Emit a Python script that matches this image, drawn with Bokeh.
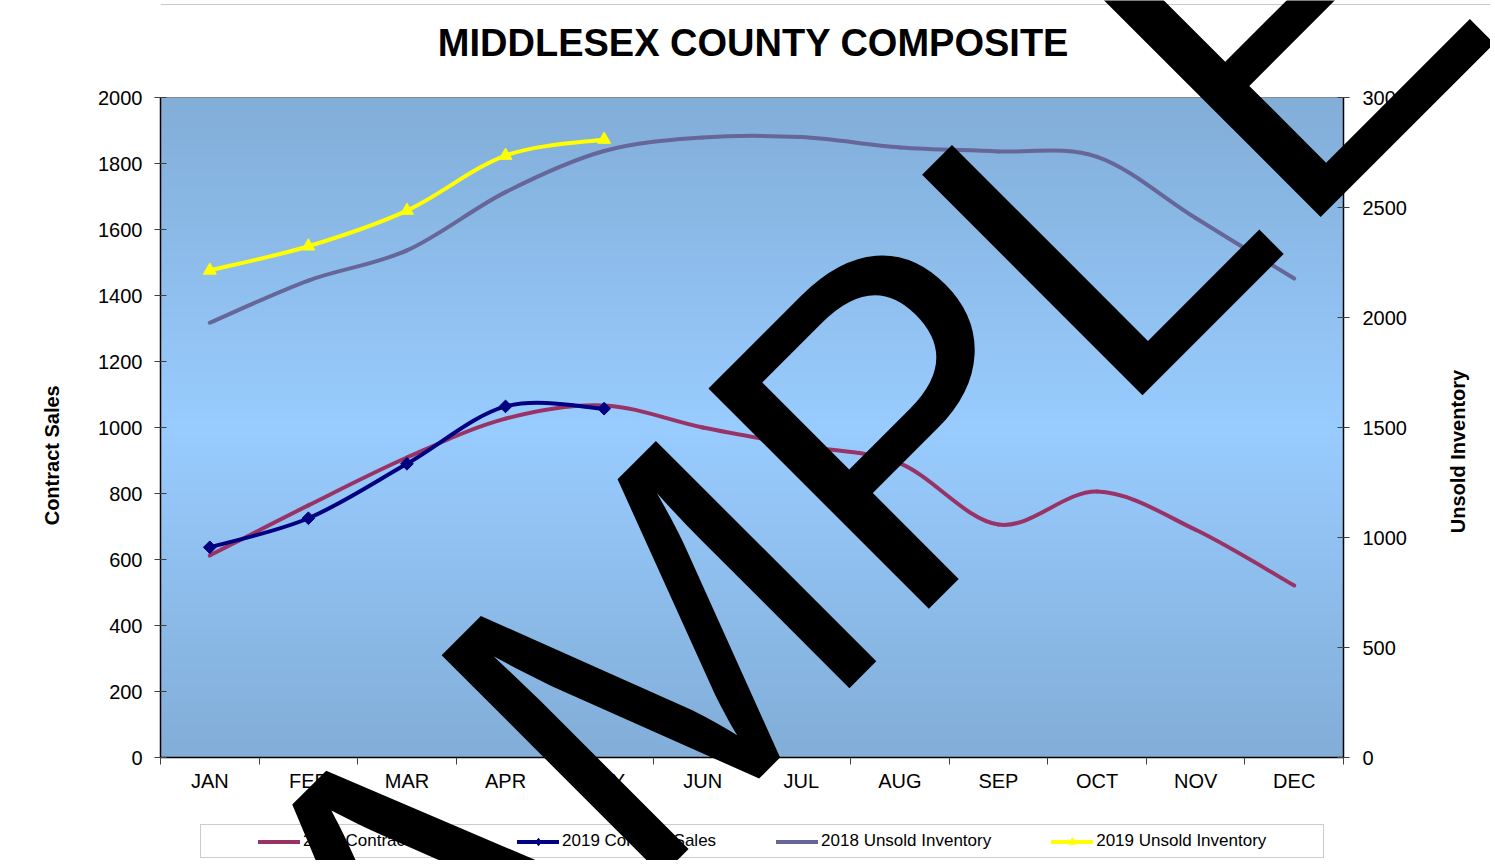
import math
import numpy as np
from bokeh.plotting import figure
from bokeh.layouts import column
from bokeh.models import Range1d, LinearAxis, FixedTicker, Legend, LegendItem, ColumnDataSource
from bokeh.core.properties import value
from bokeh.embed import file_html
from bokeh.resources import INLINE

# ---------------- data ----------------
months = ["JAN", "FEB", "MAR", "APR", "MAY", "JUN", "JUL", "AUG", "SEP", "OCT", "NOV", "DEC"]
sales_2018 = [612, 764, 909, 1027, 1067, 1000, 945, 891, 706, 806, 690, 521]
sales_2019 = [637, 725, 890, 1064, 1057]
inv_2018 = [1976, 2168, 2305, 2570, 2757, 2818, 2820, 2773, 2755, 2730, 2452, 2177]
inv_2019 = [2214, 2324, 2486, 2736, 2809]
sales_ticks = list(range(0, 2001, 200))
inv_ticks = list(range(0, 3001, 500))
series_names = ["2018 Contract Sales", "2019 Contract Sales",
                "2018 Unsold Inventory", "2019 Unsold Inventory"]
title_text = "MIDDLESEX COUNTY COMPOSITE"
left_label = "Contract Sales"
right_label = "Unsold Inventory"
watermark = "SAMPLE"

FONT = "Liberation Sans"
W, H = 1490, 860
LEFT = 160
NBSP = "\u00a0"


def smooth_segments(ys):
    """Cubic Bezier control points (Excel-like smoothing) for a series."""
    xs = [i + 1 for i in range(len(ys))]
    n = len(xs)
    d = dict(x0=[], y0=[], x1=[], y1=[], cx0=[], cy0=[], cx1=[], cy1=[])
    for i in range(n - 1):
        a = max(i - 1, 0)
        b = min(i + 2, n - 1)
        d["x0"].append(xs[i]); d["y0"].append(ys[i])
        d["x1"].append(xs[i + 1]); d["y1"].append(ys[i + 1])
        d["cx0"].append(xs[i] + (xs[i + 1] - xs[a]) / 6.0)
        d["cy0"].append(ys[i] + (ys[i + 1] - ys[a]) / 6.0)
        d["cx1"].append(xs[i + 1] - (xs[b] - xs[i]) / 6.0)
        d["cy1"].append(ys[i + 1] - (ys[b] - ys[i]) / 6.0)
    return ColumnDataSource(d)


p = figure(
    width=W, height=H,
    frame_width=1183, frame_height=660,
    min_border_left=LEFT, min_border_right=147, min_border_top=97, min_border_bottom=103,
    x_range=Range1d(0.5, 12.5), y_range=Range1d(0, 2000),
    output_backend="svg", toolbar_location=None,
)
p.extra_y_ranges = {"inv": Range1d(0, 3000)}
p.background_fill_color = "#99CCFF"
p.border_fill_color = "white"
p.outline_line_color = "#808080"
p.outline_line_width = 1
p.xgrid.visible = False
p.ygrid.visible = False
p.title.text = ""

# gradient plot-area fill
N = 256
t = np.abs(np.linspace(-1.0, 1.0, N))
edge = np.array([130, 174, 216], dtype=float)
center = np.array([153, 204, 255], dtype=float)
cols = center + (edge - center) * t[:, None]
img = np.zeros((N, 1), dtype=np.uint32)
view = img.view(dtype=np.uint8).reshape((N, 1, 4))
view[:, 0, 0] = cols[:, 0]
view[:, 0, 1] = cols[:, 1]
view[:, 0, 2] = cols[:, 2]
view[:, 0, 3] = 255
p.image_rgba(image=[img], x=0.5, y=0, dw=12, dh=2000)

# x axis: month labels at centres, tick marks at boundaries
xa = p.xaxis[0]
xa.ticker = FixedTicker(ticks=[i + 1 for i in range(len(months))],
                        minor_ticks=[i + 0.5 for i in range(len(months) + 1)])
xa.major_label_overrides = {i + 1: m for i, m in enumerate(months)}
xa.major_tick_line_color = None
xa.major_tick_in = 0
xa.major_tick_out = 7
xa.minor_tick_line_color = "#404040"
xa.minor_tick_in = 0
xa.minor_tick_out = 7
xa.major_label_standoff = 5
xa.axis_line_color = "black"
xa.axis_line_width = 1.5
xa.major_label_text_font = FONT
xa.major_label_text_font_size = "20px"
xa.major_label_text_color = "black"

# left axis
ya = p.yaxis[0]
ya.ticker = FixedTicker(ticks=sales_ticks)
ya.axis_label = left_label + NBSP * 10
ya.axis_label_text_font = FONT
ya.axis_label_text_font_size = "20px"
ya.axis_label_text_font_style = "bold"
ya.axis_label_text_color = "black"
ya.axis_label_standoff = 32
ya.major_label_text_font = FONT
ya.major_label_text_font_size = "20px"
ya.major_label_text_color = "black"
ya.major_label_standoff = 12
ya.major_tick_in = 6
ya.major_tick_out = 6
ya.major_tick_line_color = "#404040"
ya.minor_tick_line_color = None
ya.axis_line_color = "black"
ya.axis_line_width = 1.5

# right axis (its title is drawn in the overlay so it can read bottom-to-top)
ra = LinearAxis(y_range_name="inv", ticker=FixedTicker(ticks=inv_ticks))
ra.major_label_text_font = FONT
ra.major_label_text_font_size = "20px"
ra.major_label_text_color = "black"
ra.major_label_standoff = 13
ra.major_tick_in = 6
ra.major_tick_out = 6
ra.major_tick_line_color = "#404040"
ra.minor_tick_line_color = None
ra.axis_line_color = "black"
ra.axis_line_width = 1.5
p.add_layout(ra, "right")

# series
C18S, C19S, C18I, C19I = "#993366", "#000080", "#666699", "#FFFF00"
BZ = dict(x0="x0", y0="y0", x1="x1", y1="y1", cx0="cx0", cy0="cy0", cx1="cx1", cy1="cy1")

p.bezier(source=smooth_segments(sales_2018), line_color=C18S, line_width=4, line_cap="round", **BZ)

p.bezier(source=smooth_segments(sales_2019), line_color=C19S, line_width=4, line_cap="round", **BZ)
p.scatter([i + 1 for i in range(len(sales_2019))], sales_2019, marker="square",
          angle=math.pi / 4, size=9, fill_color=C19S, line_color=C19S)

p.bezier(source=smooth_segments(inv_2018), line_color=C18I, line_width=4, line_cap="round",
         y_range_name="inv", **BZ)

p.bezier(source=smooth_segments(inv_2019), line_color=C19I, line_width=4, line_cap="round",
         y_range_name="inv", **BZ)
p.scatter([i + 1 for i in range(len(inv_2019))], inv_2019, marker="triangle",
          size=13, fill_color=C19I, line_color=C19I, y_range_name="inv")


def overlay_figure(x0):
    # transparent full-canvas figure stacked on top of the main one
    f = figure(
        width=W, height=H, frame_width=W, frame_height=H,
        min_border=0, x_range=Range1d(x0, x0 + W), y_range=Range1d(0, H),
        x_axis_type=None, y_axis_type=None,
        output_backend="svg", toolbar_location=None,
    )
    f.title.text = ""
    f.background_fill_alpha = 0
    f.border_fill_alpha = 0
    f.outline_line_color = None
    f.xgrid.visible = False
    f.ygrid.visible = False
    f.styles = {"position": "absolute", "left": "0px", "top": "0px", "pointer-events": "none"}
    return f


# ---------- legend overlay (also carries the light top border line) ----------
lg = overlay_figure(0)
lg.segment(x0=[0], y0=[H - 4], x1=[W], y1=[H - 4], line_color="#c8c8c8", line_width=1)

OFF = [-10000]  # legend-only renderers: one point far outside the view
k1 = lg.line(x=OFF, y=OFF, line_color=C18S, line_width=4, line_cap="round")
k2 = lg.line(x=OFF, y=OFF, line_color=C19S, line_width=4, line_cap="round")
k2m = lg.scatter(x=OFF, y=OFF, marker="diamond", size=12,
                 fill_color=C19S, line_color=C19S)
k3 = lg.line(x=OFF, y=OFF, line_color=C18I, line_width=4, line_cap="round")
k4 = lg.line(x=OFF, y=OFF, line_color=C19I, line_width=4, line_cap="round")
k4m = lg.scatter(x=OFF, y=OFF, marker="triangle", size=12, fill_color=C19I, line_color=C19I)

legend = Legend(items=[
    LegendItem(label=series_names[0], renderers=[k1]),
    LegendItem(label=series_names[1], renderers=[k2, k2m]),
    LegendItem(label=series_names[2], renderers=[k3]),
    LegendItem(label=series_names[3], renderers=[k4, k4m]),
])
legend.orientation = "horizontal"
legend.location = (200, 2)
legend.spacing = 60
legend.glyph_width = 42
legend.glyph_height = 19
legend.label_height = 19
legend.label_standoff = 3
legend.label_text_font = FONT
legend.label_text_font_size = "17px"
legend.label_text_color = "black"
legend.border_line_color = "#999999"
legend.border_line_width = 1
legend.background_fill_color = "white"
legend.background_fill_alpha = 1.0
legend.margin = 0
try:
    legend.padding = dict(left=57, right=57, top=6, bottom=6)
except Exception:
    legend.padding = 6
lg.add_layout(legend, "center")

# ---------- title, right-axis title and "SAMPLE" watermark overlay ----------
wm = overlay_figure(LEFT)
wm.text(x=[753], y=[H - 42], text=[title_text],
        text_font=value(FONT), text_font_size="38px", text_font_style="bold",
        text_color="black", text_align="center", text_baseline="middle")
wm.text(x=[1457], y=[H - 451], text=[right_label], angle=math.pi / 2,
        text_font=value(FONT), text_font_size="20px", text_font_style="bold",
        text_color="black", text_align="center", text_baseline="middle")
wm.text(x=[746.7], y=[H - 567.9], text=[watermark], angle=math.pi / 4,
        text_font=value(FONT), text_font_size="453px", text_color="black",
        text_align="center", text_baseline="alphabetic")

layout = column(p, lg, wm)
open("out.html", "w").write(file_html(layout, INLINE))
